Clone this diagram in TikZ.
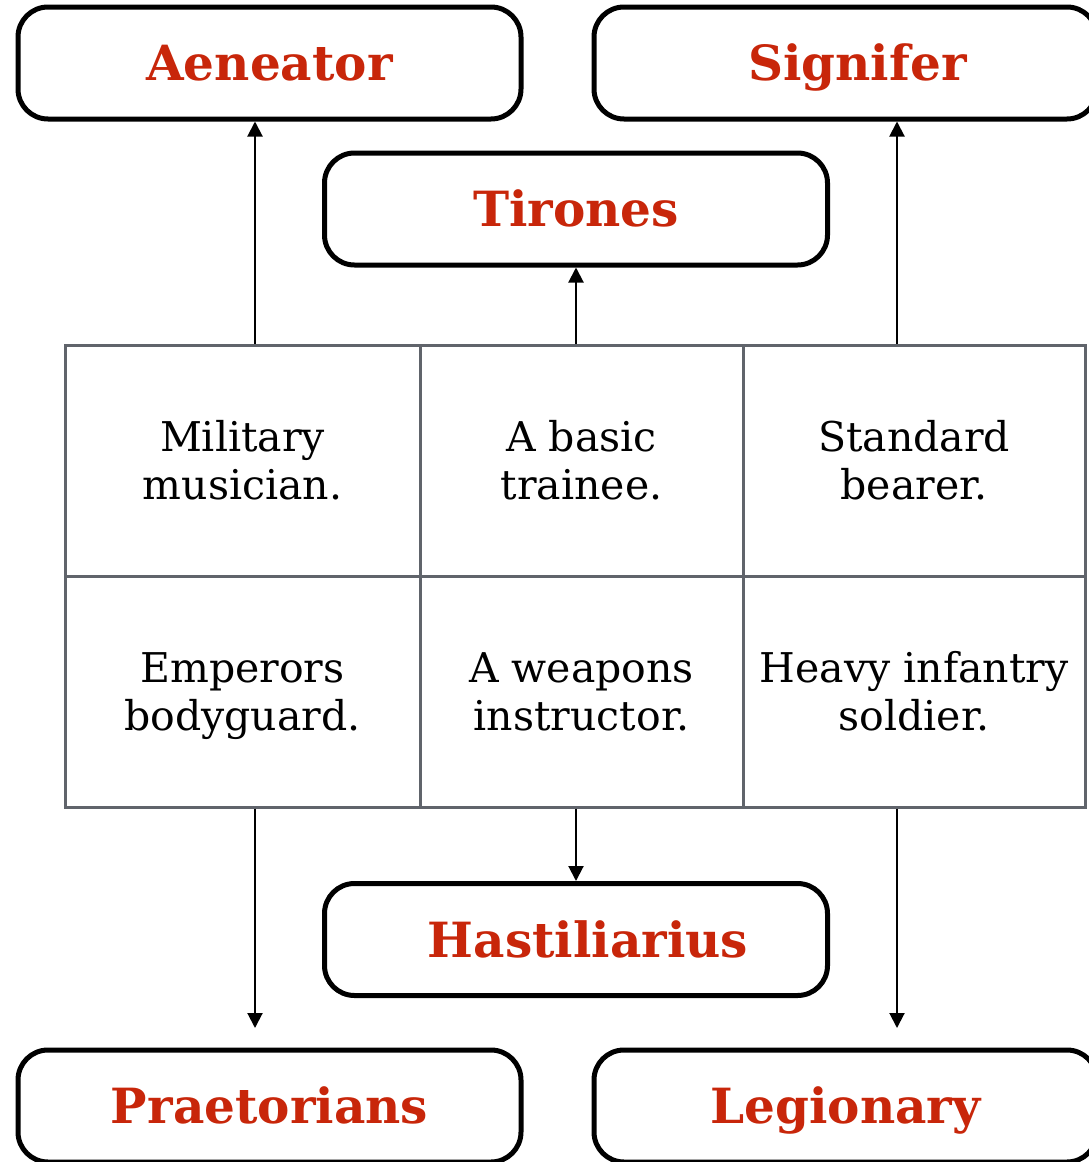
\documentclass[tikz,border=0pt]{standalone}
\usepackage{fontspec}
\setmainfont{DejaVu Serif}
\usetikzlibrary{arrows.meta}
\definecolor{titlered}{HTML}{C8260A}
\definecolor{gridgrey}{HTML}{60646B}
\begin{document}
\begin{tikzpicture}[x=1pt,y=-1pt,
  titlebox/.style={draw=black, line width=5pt, rounded corners=30pt, minimum width=503pt, minimum height=112pt, inner sep=0pt, text height=35pt, text depth=0pt, font=\fontsize{48.5}{52}\selectfont\bfseries, text=titlered},
  cell/.style={draw=gridgrey, line width=3pt, inner sep=0pt, align=center, minimum height=231pt, text height=78pt, text depth=0pt, font=\fontsize{41}{48}\selectfont},
  arr/.style={line width=2pt, -{Triangle[length=15pt,width=15pt]}}]
\useasboundingbox (0,0) rectangle (1089,1162);
\clip (0,0) rectangle (1089,1162);
\fill[white] (0,0) rectangle (1089,1162);
% title boxes
\node[titlebox] (aen) at (269.5,63) {Aeneator};
\node[titlebox] (sig) at (845.5,63) {\hspace*{24pt}Signifer};
\node[titlebox] (tir) at (576,209) {Tirones};
\node[titlebox] (has) at (576,939.5) {\hspace*{24pt}Hastiliarius};
\node[titlebox] (pra) at (269.5,1106) {Praetorians};
\node[titlebox] (leg) at (845.5,1106) {Legionary};
% grid cells
\node[cell, minimum width=355pt] (c11) at (242.5,460.5) {Military\\musician.};
\node[cell, minimum width=323pt] (c12) at (581.5,460.5) {A basic\\trainee.};
\node[cell, minimum width=342pt] (c13) at (914,460.5) {Standard\\bearer.};
\node[cell, minimum width=355pt] (c21) at (242.5,691.5) {Emperors\\bodyguard.};
\node[cell, minimum width=323pt] (c22) at (581.5,691.5) {A weapons\\instructor.};
\node[cell, minimum width=342pt] (c23) at (914,691.5) {Heavy infantry\\soldier.};
% arrow columns
\coordinate (colA) at (255,0);
\coordinate (colB) at (576,0);
\coordinate (colC) at (897,0);
\coordinate (endA) at (255,1028);
\coordinate (endC) at (897,1028);
% connectors
\draw[arr] (c11.north -| colA) -- (aen.south -| colA);
\draw[arr] (c12.north -| colB) -- (tir.south -| colB);
\draw[arr] (c13.north -| colC) -- (sig.south -| colC);
\draw[arr] (c21.south -| colA) -- (endA);
\draw[arr] (c22.south -| colB) -- (has.north -| colB);
\draw[arr] (c23.south -| colC) -- (endC);
\end{tikzpicture}
\end{document}
